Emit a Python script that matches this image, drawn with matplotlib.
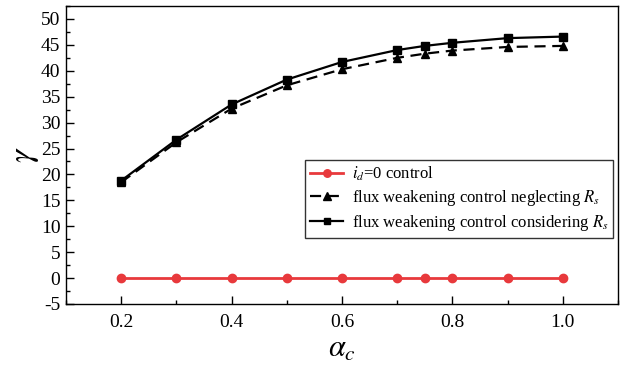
import matplotlib.pyplot as plt
from matplotlib.ticker import MultipleLocator

plt.rcParams['font.family'] = 'Liberation Serif'
plt.rcParams['mathtext.fontset'] = 'stix'
plt.rcParams['axes.unicode_minus'] = False

# modulation ratio values
alpha_c = [0.2, 0.3, 0.4, 0.5, 0.6, 0.7, 0.75, 0.8, 0.9, 1.0]

# gamma for each control strategy
gamma_id0 = [0, 0, 0, 0, 0, 0, 0, 0, 0, 0]
gamma_fw_neglect = [18.5, 26.2, 32.7, 37.2, 40.3, 42.5, 43.3, 43.9, 44.6, 44.8]
gamma_fw_consider = [18.8, 26.7, 33.5, 38.3, 41.7, 44.0, 44.8, 45.4, 46.3, 46.6]

fig = plt.figure(figsize=(6.24, 3.73), dpi=100)
ax = fig.add_axes([66/624, 1 - 304/373, 552/624, 298/373])

red = '#e8393c'
ax.plot(alpha_c, gamma_id0, color=red, lw=2, marker='o', ms=6,
        label=r'$i_d$=0 control')
ax.plot(alpha_c, gamma_fw_neglect, color='black', lw=1.6, ls=(0, (5, 3)),
        marker='^', ms=6, label=r'flux weakening control neglecting $R_s$')
ax.plot(alpha_c, gamma_fw_consider, color='black', lw=1.6, marker='s', ms=5.5,
        label=r'flux weakening control considering $R_s$')

ax.set_xlim(0.1, 1.1)
ax.set_ylim(-5, 52.5)
ax.set_xticks([0.2, 0.4, 0.6, 0.8, 1.0])
ax.set_xticklabels(['0.2', '0.4', '0.6', '0.8', '1.0'])
ax.xaxis.set_minor_locator(MultipleLocator(0.1))
ax.set_yticks(range(-5, 51, 5))
ax.yaxis.set_minor_locator(MultipleLocator(2.5))
ax.tick_params(which='both', direction='in', labelsize=14, top=False, right=False)
ax.tick_params(which='major', length=6, width=1)
ax.tick_params(which='minor', length=3, width=1)
ax.tick_params(axis='x', pad=7)
ax.tick_params(axis='y', pad=4)
for s in ax.spines.values():
    s.set_linewidth(1)

ax.set_xlabel(r'$\alpha_c$', fontsize=22, labelpad=3)
ax.set_ylabel(r'$\gamma$', fontsize=24, labelpad=0)

leg = ax.legend(loc='lower left', bbox_to_anchor=(0.433, 0.221), borderaxespad=0,
                fontsize=12, frameon=True, fancybox=False, edgecolor='black',
                handlelength=2.0, handletextpad=0.5, labelspacing=0.3,
                borderpad=0.3, markerscale=0.9)
leg.get_frame().set_linewidth(1)

fig.savefig('out.png', dpi=100)
